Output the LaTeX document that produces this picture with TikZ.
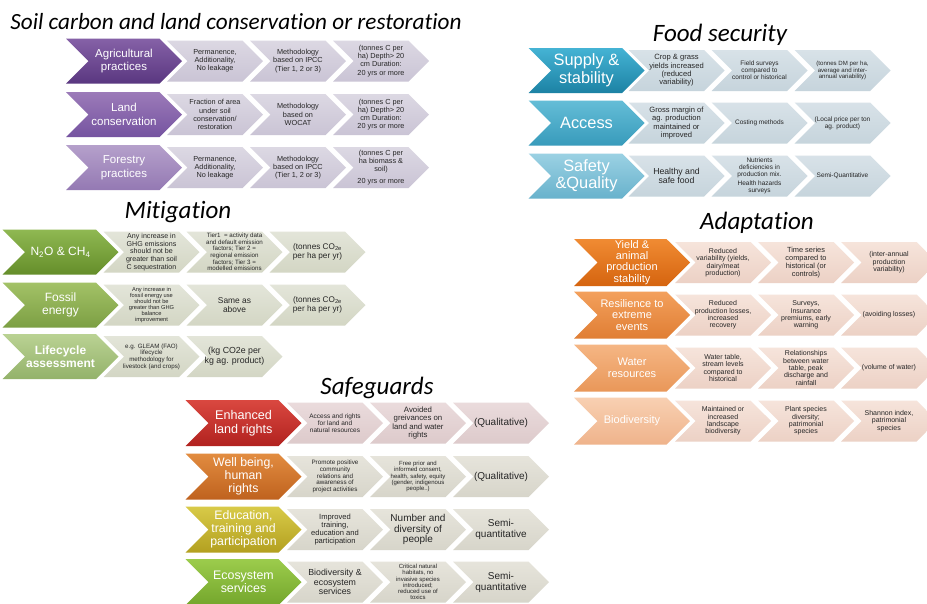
\documentclass[tikz,border=0pt]{standalone}
\usepackage{fontspec}
\setmainfont{Liberation Sans}
\newfontfamily\titlefont[Ligatures=NoCommon]{Carlito}
\usetikzlibrary{
    shapes.symbols,
    positioning
}
\usepackage{xcolor}

% purple rows
\definecolor{purpA}{HTML}{8561A7}
\definecolor{purpB}{HTML}{5A3780}
\definecolor{purpC}{HTML}{9C7BB9}
\definecolor{purpD}{HTML}{7553A0}
\definecolor{purpE}{HTML}{B5A0CB}
\definecolor{purpF}{HTML}{9479B3}
\definecolor{purpcellA}{HTML}{DCD8E3}
\definecolor{purpcellB}{HTML}{CAC4D5}
% teal rows
\definecolor{tealA}{HTML}{45B3D4}
\definecolor{tealB}{HTML}{1C82A4}
\definecolor{tealC}{HTML}{64BDD7}
\definecolor{tealD}{HTML}{389BBB}
\definecolor{tealE}{HTML}{9BD1E3}
\definecolor{tealF}{HTML}{68B2CC}
\definecolor{tealcellA}{HTML}{D8E2E8}
\definecolor{tealcellB}{HTML}{C6D4DC}
% green rows
\definecolor{grnA}{HTML}{8FB852}
\definecolor{grnB}{HTML}{658E2A}
\definecolor{grnC}{HTML}{A3C267}
\definecolor{grnD}{HTML}{7C9F43}
\definecolor{grnE}{HTML}{BAD293}
\definecolor{grnF}{HTML}{93B26A}
\definecolor{grncellA}{HTML}{E3E5D9}
\definecolor{grncellB}{HTML}{D3D6C4}
% orange rows
\definecolor{orgA}{HTML}{F08B33}
\definecolor{orgB}{HTML}{D5640F}
\definecolor{orgC}{HTML}{F3A05C}
\definecolor{orgD}{HTML}{E07E34}
\definecolor{orgE}{HTML}{F5B684}
\definecolor{orgF}{HTML}{E99759}
\definecolor{orgG}{HTML}{F8D0B2}
\definecolor{orgH}{HTML}{EFB38B}
\definecolor{orgcellA}{HTML}{F6E4DB}
\definecolor{orgcellB}{HTML}{ECD1C5}
% safeguard rows
\definecolor{redA}{HTML}{DA4840}
\definecolor{redB}{HTML}{B1221F}
\definecolor{ochA}{HTML}{E28C40}
\definecolor{ochB}{HTML}{BF621E}
\definecolor{yelA}{HTML}{D8CA48}
\definecolor{yelB}{HTML}{B3A020}
\definecolor{limA}{HTML}{9CCC4C}
\definecolor{limB}{HTML}{74A62C}
\definecolor{rosecellA}{HTML}{EADBDC}
\definecolor{rosecellB}{HTML}{DDCACB}
\definecolor{sandcellA}{HTML}{E6E4DB}
\definecolor{sandcellB}{HTML}{D7D5CA}

\newcommand{\fsz}[2]{\fontsize{#1}{#2}\selectfont}

\tikzstyle{chevron} = [
    signal,
    signal from=west,
    signal to=east,
    signal pointer angle=90,
    inner xsep=-6pt,
    inner ysep=0pt,
    align=center
]
\tikzstyle{head} = [
    chevron,
    minimum width=116pt,
    minimum height=45pt,
    text=white
]
\tikzstyle{cell} = [
    chevron,
    minimum width=96pt,
    minimum height=41pt,
    text=black!85
]
\tikzstyle{heading} = [
    font=\titlefont\itshape\fsz{25}{30}
]
\tikzset{tint/.style 2 args={top color=#1, bottom color=#2}}

\begin{document}
\begin{tikzpicture}[x=1pt, y=-1pt]
    \useasboundingbox[fill=white] (0,0) rectangle (927,603);

    % Soil carbon
    \node[heading, font=\titlefont\itshape\fsz{23.2}{28}] (soilt) at (236,22) {Soil carbon and land conservation or restoration};
    \tikzset{scell/.style={cell, tint={purpcellA}{purpcellB}, font=\fsz{7.3}{8.2}}}

    \node[scell] (agri1) at ([xshift=91pt]124,61) {Permanence,\\Additionality,\\No leakage};
    \node[scell] (agri2) at ([xshift=83pt]agri1.center) {Methodology\\based on IPCC\\(Tier 1, 2 or 3)};
    \node[scell] (agri3) at ([xshift=83pt]agri2.center) {(tonnes C per\\ha) Depth> 20\\cm Duration:\\20 yrs or more};
    \node[head, tint={purpA}{purpB}, font=\fsz{11.5}{13.5}] (agri) at (124,61) {Agricultural\\practices};

    \node[scell] (landc1) at ([xshift=91pt]124,114.5) {Fraction of area\\under soil\\conservation/\\restoration};
    \node[scell] (landc2) at ([xshift=83pt]landc1.center) {Methodology\\based on\\WOCAT};
    \node[scell] (landc3) at ([xshift=83pt]landc2.center) {(tonnes C per\\ha) Depth> 20\\cm Duration:\\20 yrs or more};
    \node[head, tint={purpC}{purpD}, font=\fsz{11.5}{13.5}] (landc) at (124,114.5) {Land\\conservation};

    \node[scell] (forest1) at ([xshift=91pt]124,167.5) {Permanence,\\Additionality,\\No leakage};
    \node[scell] (forest2) at ([xshift=83pt]forest1.center) {Methodology\\based on IPCC\\(Tier 1, 2 or 3)};
    \node[scell] (forest3) at ([xshift=83pt]forest2.center) {(tonnes C per\\ha biomass \&\\soil)\\[3pt]20 yrs or more};
    \node[head, tint={purpE}{purpF}, font=\fsz{11.5}{13.5}] (forest) at (124,167.5) {Forestry\\practices};

    % Food security
    \node[heading] (foodt) at (720,35) {Food security};
    \tikzset{fcell/.style={cell, tint={tealcellA}{tealcellB}}}

    \node[fcell, font=\fsz{7.6}{8.4}] (supply1) at ([xshift=90pt]586.5,70.5) {Crop \& grass\\yields increased\\(reduced\\variability)};
    \node[fcell, font=\fsz{6.5}{7}] (supply2) at ([xshift=83pt]supply1.center) {Field surveys\\compared to\\control or historical};
    \node[fcell, font=\fsz{6.1}{6.8}] (supply3) at ([xshift=83pt]supply2.center) {(tonnes DM per ha,\\average and inter-\\annual variability)};
    \node[head, tint={tealA}{tealB}, font=\fsz{16.4}{17.5}] (supply) at (586.5,70.5) {Supply \&\\stability};

    \node[fcell, font=\fsz{7.6}{8.4}] (access1) at ([xshift=90pt]586.5,123) {Gross margin of\\ag. production\\maintained or\\improved};
    \node[fcell, font=\fsz{6.5}{7}] (access2) at ([xshift=83pt]access1.center) {Costing methods};
    \node[fcell, font=\fsz{6.5}{7}] (access3) at ([xshift=83pt]access2.center) {(Local price per ton\\ag. product)};
    \node[head, tint={tealC}{tealD}, font=\fsz{16.4}{17.5}] (access) at (586.5,123) {Access};

    \node[fcell, font=\fsz{8.7}{9.5}] (safety1) at ([xshift=90pt]586.5,176) {Healthy and\\safe food};
    \node[fcell, font=\fsz{6.5}{7}] (safety2) at ([xshift=83pt]safety1.center) {Nutrients\\deficiencies in\\production mix.\\[2pt]Health hazards\\surveys};
    \node[fcell, font=\fsz{6.5}{7}] (safety3) at ([xshift=83pt]safety2.center) {Semi-Quantitative};
    \node[head, tint={tealE}{tealF}, font=\fsz{16.4}{17.5}] (safety) at (586.5,176) {Safety\\\&Quality};

    % Mitigation
    \node[heading] (mitt) at (178,212) {Mitigation};
    \tikzset{mcell/.style={cell, tint={grncellA}{grncellB}}}

    \node[mcell, font=\fsz{7.1}{7.6}] (ghg1) at ([xshift=91pt]60.5,252) {Any increase in\\GHG emissions\\should not be\\greater than soil\\C sequestration};
    \node[mcell, font=\fsz{6.2}{6.6}] (ghg2) at ([xshift=83pt]ghg1.center) {Tier1\ \ = activity data\\and default emission\\factors; Tier 2 =\\regional emission\\factors; Tier 3 =\\modelled emissions};
    \node[mcell, font=\fsz{8.2}{9.5}] (ghg3) at ([xshift=83pt]ghg2.center) {(tonnes CO\textsubscript{2e}\\per ha per yr)};
    \node[head, tint={grnA}{grnB}, font=\fsz{12}{13}] (ghg) at (60.5,252) {N\textsubscript{2}O \& CH\textsubscript{4}};

    \node[mcell, font=\fsz{5.7}{5.9}] (fossil1) at ([xshift=91pt]60.5,305) {Any increase in\\fossil energy use\\should not be\\greater than GHG\\balance\\improvement};
    \node[mcell, font=\fsz{8.4}{9.4}] (fossil2) at ([xshift=83pt]fossil1.center) {Same as\\above};
    \node[mcell, font=\fsz{8.2}{9.5}] (fossil3) at ([xshift=83pt]fossil2.center) {(tonnes CO\textsubscript{2e}\\per ha per yr)};
    \node[head, tint={grnC}{grnD}, font=\fsz{12}{13}] (fossil) at (60.5,305) {Fossil\\energy};

    \node[mcell, font=\fsz{6.2}{6.6}] (lca1) at ([xshift=91pt]60.5,356.5) {e.g. GLEAM (FAO)\\lifecycle\\methodology for\\livestock (and crops)};
    \node[mcell, font=\fsz{8.8}{9.6}] (lca2) at ([xshift=83pt]lca1.center) {(kg CO2e per\\kg ag. product)};
    \node[head, tint={grnE}{grnF}, font=\bfseries\fsz{12}{13}] (lca) at (60.5,356.5) {Lifecycle\\assessment};

    % Adaptation
    \node[heading] (adapt) at (757,223) {Adaptation};
    \tikzset{acell/.style={cell, tint={orgcellA}{orgcellB}, font=\fsz{7}{7.4}}}

    \node[acell] (yield1) at ([xshift=91pt]632,262.5) {Reduced\\variability (yields,\\dairy/meat\\production)};
    \node[acell, font=\fsz{7.4}{7.8}] (yield2) at ([xshift=83pt]yield1.center) {Time series\\compared to\\historical (or\\controls)};
    \node[acell] (yield3) at ([xshift=83pt]yield2.center) {(inter-annual\\production\\variability)};
    \node[head, tint={orgA}{orgB}, font=\fsz{11}{11.3}, minimum height=47pt] (yield) at (632,262.5) {Yield \&\\animal\\production\\stability};

    \node[acell] (resil1) at ([xshift=91pt]632,315) {Reduced\\production losses,\\increased\\recovery};
    \node[acell] (resil2) at ([xshift=83pt]resil1.center) {Surveys,\\Insurance\\premiums, early\\warning};
    \node[acell] (resil3) at ([xshift=83pt]resil2.center) {(avoiding losses)};
    \node[head, tint={orgC}{orgD}, font=\fsz{11}{11.5}, minimum height=47pt] (resil) at (632,315) {Resilience to\\extreme\\events};

    \node[acell] (water1) at ([xshift=91pt]632,368) {Water table,\\stream levels\\compared to\\historical};
    \node[acell] (water2) at ([xshift=83pt]water1.center) {Relationships\\between water\\table, peak\\discharge and\\rainfall};
    \node[acell] (water3) at ([xshift=83pt]water2.center) {(volume of water)};
    \node[head, tint={orgE}{orgF}, font=\fsz{11}{11.5}, minimum height=47pt] (water) at (632,368) {Water\\resources};

    \node[acell] (biodiv1) at ([xshift=91pt]632,421) {Maintained or\\increased\\landscape\\biodiversity};
    \node[acell] (biodiv2) at ([xshift=83pt]biodiv1.center) {Plant species\\diversity;\\patrimonial\\species};
    \node[acell] (biodiv3) at ([xshift=83pt]biodiv2.center) {Shannon index,\\patrimonial\\species};
    \node[head, tint={orgG}{orgH}, font=\fsz{11}{11.5}, minimum height=47pt] (biodiv) at (632,421) {Biodiversity};

    % Safeguards
    \node[heading] (safet) at (377,388) {Safeguards};
    \tikzset{gcell/.style={cell, tint={sandcellA}{sandcellB}}}

    \node[cell, tint={rosecellA}{rosecellB}, font=\fsz{6.5}{6.8}] (landr1) at ([xshift=91.5pt]243.5,423) {Access and rights\\for land and\\natural resources};
    \node[cell, tint={rosecellA}{rosecellB}, font=\fsz{7.8}{8.2}] (landr2) at ([xshift=83pt]landr1.center) {Avoided\\greivances on\\land and water\\rights};
    \node[cell, tint={rosecellA}{rosecellB}, font=\fsz{10}{11}] (landr3) at ([xshift=83pt]landr2.center) {(Qualitative)};
    \node[head, tint={redA}{redB}, font=\fsz{12.6}{13.5}, minimum height=46pt] (landr) at (243.5,423) {Enhanced\\land rights};

    \node[gcell, font=\fsz{6.3}{6.7}] (wellb1) at ([xshift=91.5pt]243.5,476.5) {Promote positive\\community\\relations and\\awareness of\\project activities};
    \node[gcell, font=\fsz{6}{6.4}] (wellb2) at ([xshift=83pt]wellb1.center) {Free prior and\\informed consent,\\health, safety, equity\\(gender, indigenous\\people..)};
    \node[gcell, font=\fsz{10}{11}] (wellb3) at ([xshift=83pt]wellb2.center) {(Qualitative)};
    \node[head, tint={ochA}{ochB}, font=\fsz{12.3}{13}, minimum height=46pt] (wellb) at (243.5,476.5) {Well being,\\human\\rights};

    \node[gcell, font=\fsz{7.6}{8}] (educ1) at ([xshift=91.5pt]243.5,529.5) {Improved\\training,\\education and\\participation};
    \node[gcell, font=\fsz{10}{10.5}] (educ2) at ([xshift=83pt]educ1.center) {Number and\\diversity of\\people};
    \node[gcell, font=\fsz{10}{11}] (educ3) at ([xshift=83pt]educ2.center) {Semi-\\quantitative};
    \node[head, tint={yelA}{yelB}, font=\fsz{12.3}{13}, minimum height=46pt] (educ) at (243.5,529.5) {Education,\\training and\\participation};

    \node[gcell, font=\fsz{8.8}{9.5}] (ecos1) at ([xshift=91.5pt]243.5,582) {Biodiversity \&\\ecosystem\\services};
    \node[gcell, font=\fsz{6}{6.3}] (ecos2) at ([xshift=83pt]ecos1.center) {Critical natural\\habitats, no\\invasive species\\introduced;\\reduced use of\\toxics};
    \node[gcell, font=\fsz{10}{11}] (ecos3) at ([xshift=83pt]ecos2.center) {Semi-\\quantitative};
    \node[head, tint={limA}{limB}, font=\fsz{12.4}{13.5}, minimum height=46pt] (ecos) at (243.5,582) {Ecosystem\\services};
\end{tikzpicture}
\end{document}
